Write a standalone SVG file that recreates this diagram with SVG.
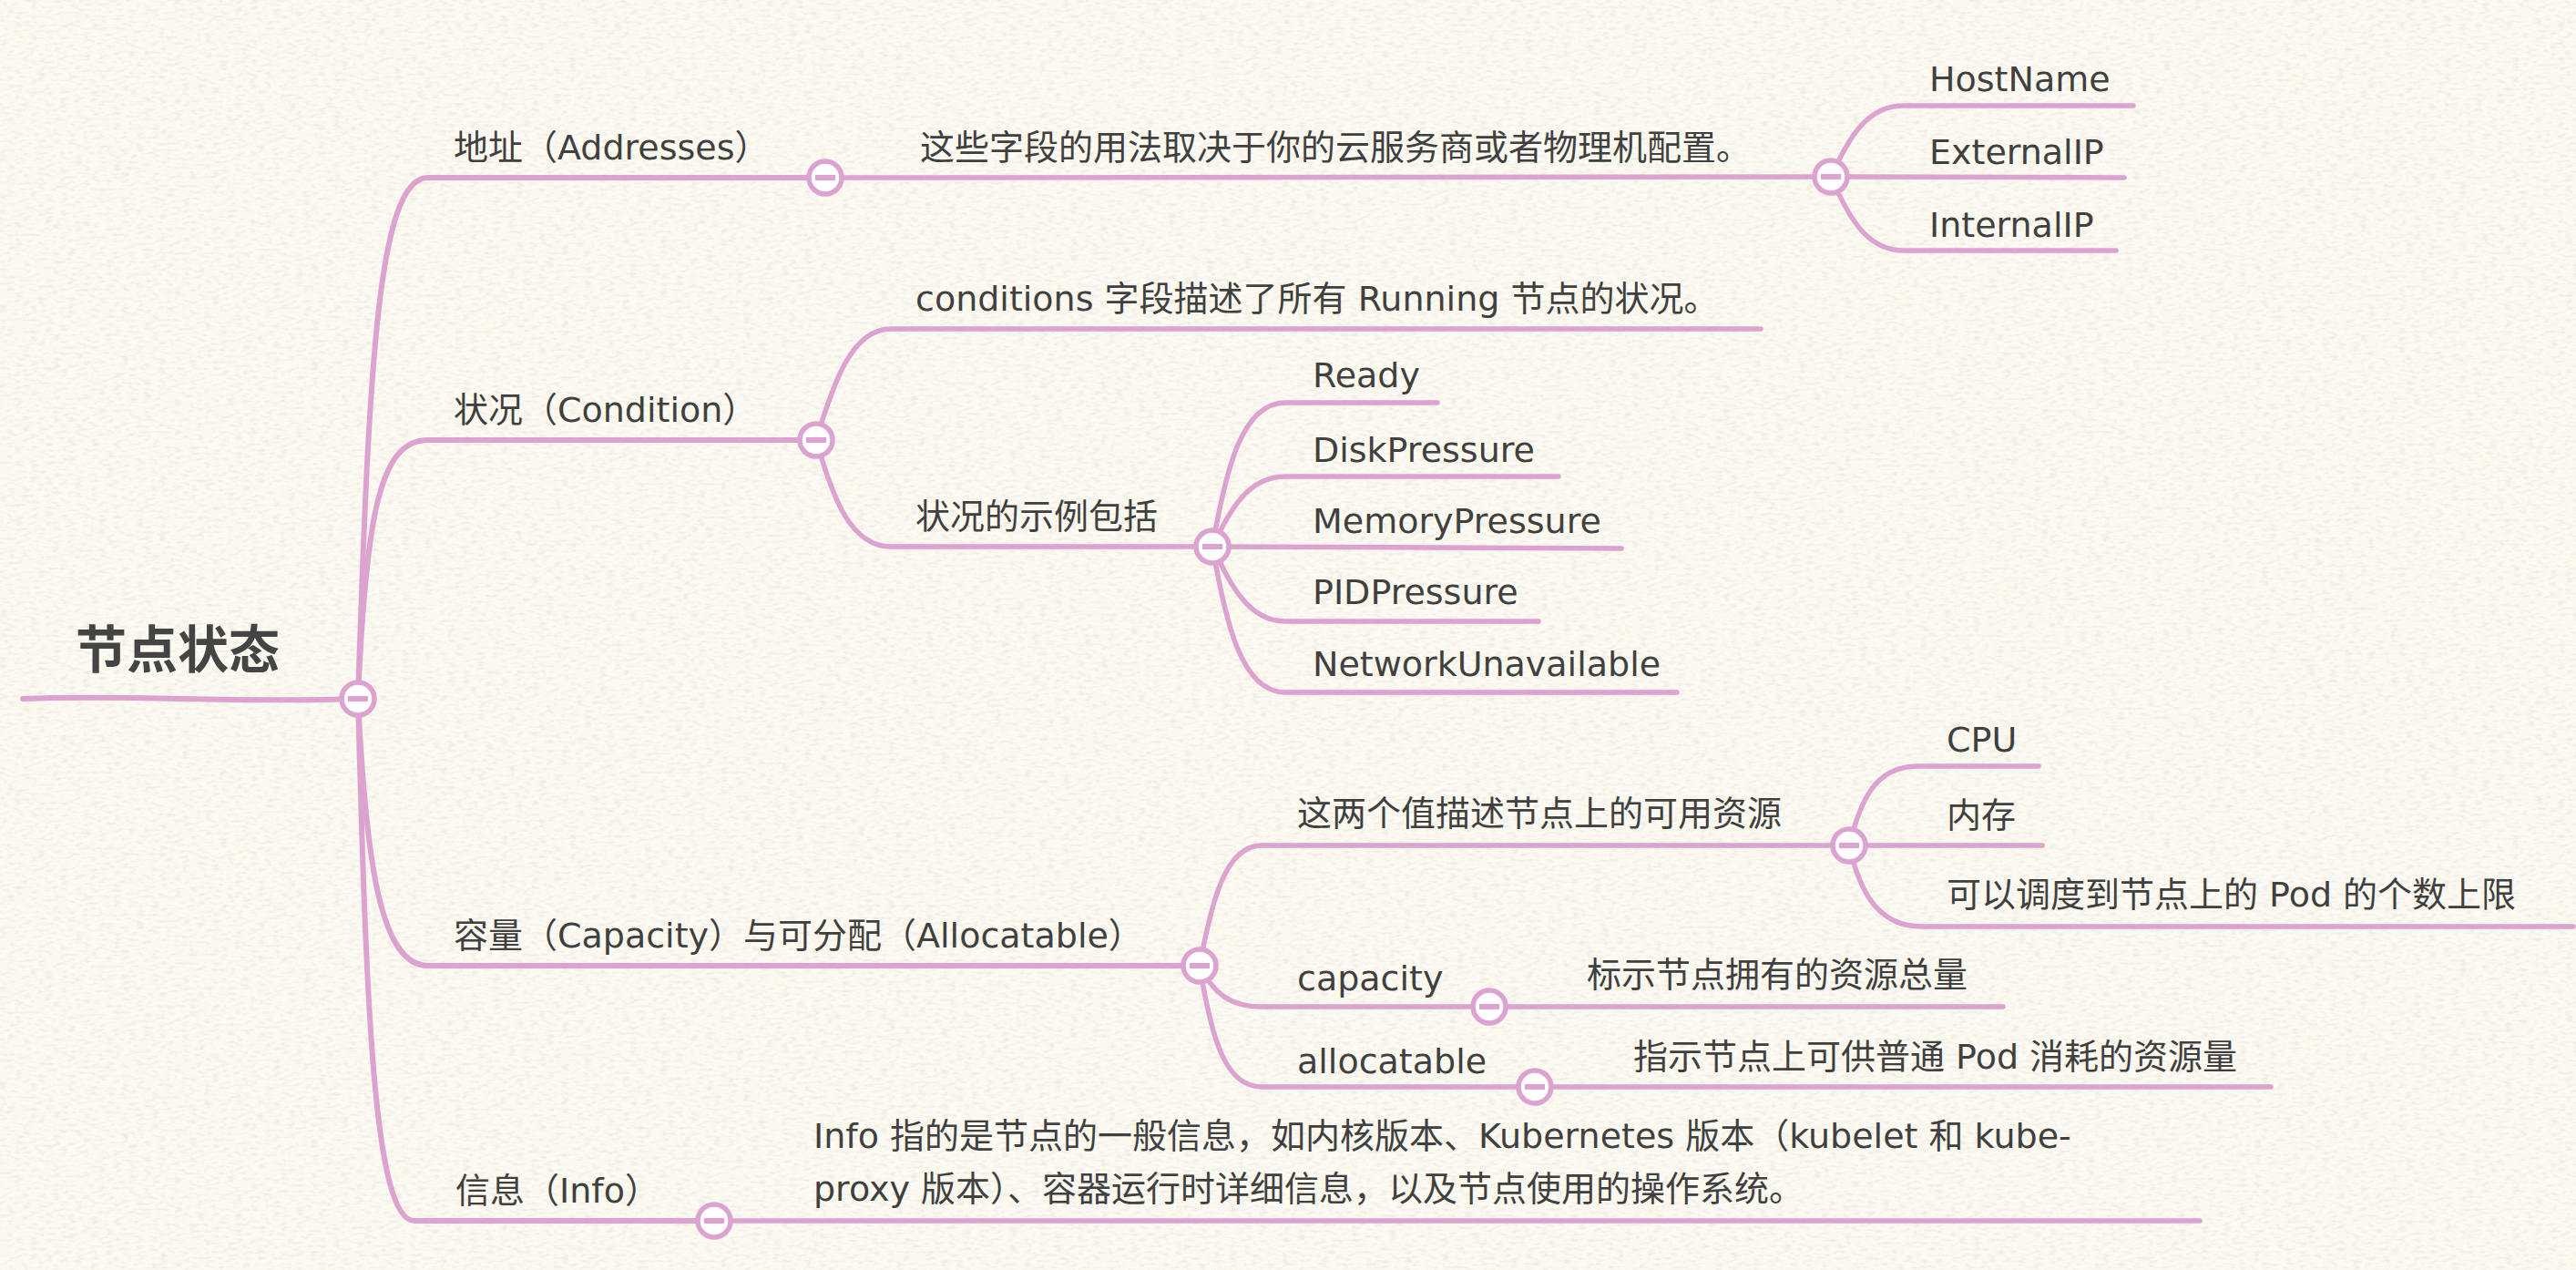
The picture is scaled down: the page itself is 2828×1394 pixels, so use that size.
<svg xmlns="http://www.w3.org/2000/svg" width="2828" height="1394" viewBox="0 0 2828 1394">
<defs>
<filter id="paper" x="0" y="0" width="100%" height="100%">
<feTurbulence type="fractalNoise" baseFrequency="0.12 0.3" numOctaves="2" seed="7" result="n"/>
<feColorMatrix in="n" type="matrix" values="0 0 0 0 0.80  0 0 0 0 0.78  0 0 0 0 0.72  0 0 0 -3 1.6"/>
</filter>
<style>
.t{font-family:"DejaVu Sans","Noto Sans CJK SC",sans-serif;font-size:38px;fill:#404040}
.root{font-family:"Noto Sans CJK SC",sans-serif;font-size:56px;font-weight:bold;fill:#444}
.c{fill:none;stroke:#dca3d0;stroke-width:5.5;stroke-linecap:round;stroke-linejoin:round}
.m{stroke-width:6}
.k{fill:#fff;stroke:#dca3d0;stroke-width:5.5}
.b{fill:#dca3d0}
</style>
<g id="tog">
<circle class="k" cx="0" cy="0" r="18"/>
<rect class="b" x="-11" y="-3" width="22" height="6"/>
</g>
</defs>
<rect width="2828" height="1394" fill="#fcfaf0"/>
<rect width="2828" height="1394" filter="url(#paper)" opacity="0.6"/>

<g id="connectors">
<path class="c m" d="M25,767 C150,762 250,772 393,767"/>
<path class="c m" d="M393,767 C405,400 415,195 470,195 L906,195"/>
<path class="c m" d="M393,767 C402,560 418,483 470,483 L896,483"/>
<path class="c m" d="M393,767 C402,950 418,1060 470,1060 L1317,1060"/>
<path class="c m" d="M393,767 C402,1100 410,1340 455,1340 L784,1340"/>
<path class="c" d="M906,195 L2010,194"/>
<path class="c" d="M2010,194 C2030,150 2050,116 2090,116 L2342,116"/>
<path class="c" d="M2010,194 L2332,195"/>
<path class="c" d="M2010,194 C2030,240 2050,275 2090,275 L2323,275"/>
<path class="c" d="M896,483 C915,420 935,361 978,361 L1933,361"/>
<path class="c" d="M896,483 C915,550 935,600 978,600 L1331,600"/>
<path class="c" d="M1331,600 C1345,520 1362,442 1411,442 L1578,442"/>
<path class="c" d="M1331,600 C1350,560 1370,523 1411,523 L1711,523"/>
<path class="c" d="M1331,600 L1780,602"/>
<path class="c" d="M1331,600 C1350,640 1370,682 1411,682 L1689,682"/>
<path class="c" d="M1331,600 C1345,680 1362,760 1411,760 L1841,760"/>
<path class="c" d="M1317,1060 C1330,990 1345,928 1385,928 L2030,928"/>
<path class="c" d="M1317,1060 C1332,1090 1350,1105 1385,1105 L2199,1105"/>
<path class="c" d="M1317,1060 C1330,1140 1345,1193 1385,1193 L2493,1193"/>
<path class="c" d="M2030,928 C2042,880 2058,841 2105,841 L2238,841"/>
<path class="c" d="M2030,928 L2242,928"/>
<path class="c" d="M2030,928 C2042,980 2062,1017 2110,1017 L2825,1017"/>
<path class="c" d="M784,1340 L2415,1340"/>
</g>

<g id="root"><text class="root" x="83" y="733">节点状态</text><use href="#tog" x="393" y="767"/></g>

<g id="addresses"><text class="t" x="498" y="175">地址（Addresses）</text><use href="#tog" x="906" y="195"/></g>
<g id="addresses-desc"><text class="t" x="1010" y="175">这些字段的用法取决于你的云服务商或者物理机配置。</text><use href="#tog" x="2010" y="194"/></g>
<g id="hostname"><text class="t" x="2118" y="100">HostName</text></g>
<g id="externalip"><text class="t" x="2118" y="180">ExternalIP</text></g>
<g id="internalip"><text class="t" x="2118" y="260">InternalIP</text></g>

<g id="condition"><text class="t" x="498" y="463">状况（Condition）</text><use href="#tog" x="896" y="483"/></g>
<g id="conditions-desc"><text class="t" x="1005" y="341">conditions 字段描述了所有 Running 节点的状况。</text></g>
<g id="examples"><text class="t" x="1005" y="580">状况的示例包括</text><use href="#tog" x="1331" y="600"/></g>
<g id="ready"><text class="t" x="1441" y="425">Ready</text></g>
<g id="diskpressure"><text class="t" x="1441" y="507">DiskPressure</text></g>
<g id="memorypressure"><text class="t" x="1441" y="585">MemoryPressure</text></g>
<g id="pidpressure"><text class="t" x="1441" y="663">PIDPressure</text></g>
<g id="networkunavailable"><text class="t" x="1441" y="742">NetworkUnavailable</text></g>

<g id="capacity-allocatable"><text class="t" x="498" y="1040">容量（Capacity）与可分配（Allocatable）</text><use href="#tog" x="1317" y="1060"/></g>
<g id="resources"><text class="t" x="1424" y="906">这两个值描述节点上的可用资源</text><use href="#tog" x="2030" y="928"/></g>
<g id="cpu"><text class="t" x="2137" y="825">CPU</text></g>
<g id="memory"><text class="t" x="2137" y="908">内存</text></g>
<g id="pods"><text class="t" x="2137" y="995">可以调度到节点上的 Pod 的个数上限</text></g>
<g id="capacity"><text class="t" x="1424" y="1087">capacity</text><use href="#tog" x="1635" y="1105"/></g>
<g id="capacity-desc"><text class="t" x="1742" y="1083">标示节点拥有的资源总量</text></g>
<g id="allocatable"><text class="t" x="1424" y="1178">allocatable</text><use href="#tog" x="1685" y="1193"/></g>
<g id="allocatable-desc"><text class="t" x="1793" y="1173">指示节点上可供普通 Pod 消耗的资源量</text></g>

<g id="info"><text class="t" x="500" y="1320">信息（Info）</text><use href="#tog" x="784" y="1340"/></g>
<g id="info-desc"><text class="t" x="893" y="1260">Info 指的是节点的一般信息，如内核版本、Kubernetes 版本（kubelet 和 kube-</text><text class="t" x="893" y="1318">proxy 版本）、容器运行时详细信息，以及节点使用的操作系统。</text></g>
</svg>
